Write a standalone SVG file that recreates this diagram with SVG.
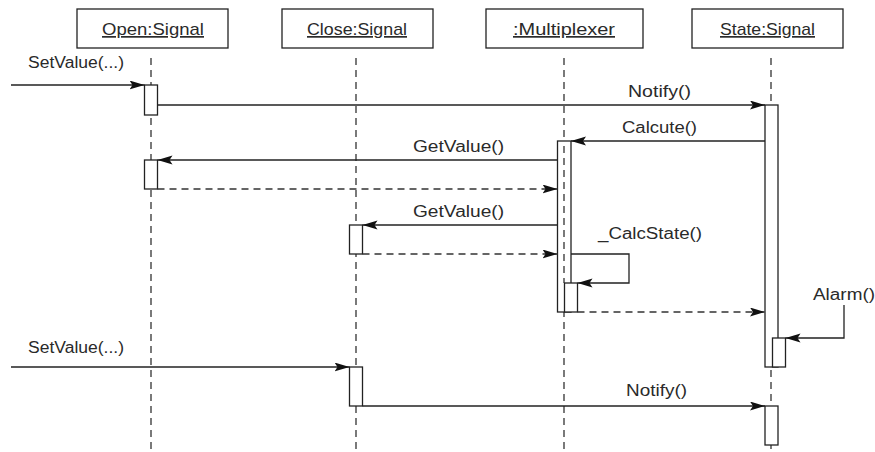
<svg xmlns="http://www.w3.org/2000/svg" width="875" height="452" viewBox="0 0 875 452">
  <style>
    .hdr { fill: #fff; stroke: #222; stroke-width: 1.3; }
    .lbl { font-family: "Liberation Sans", Arial, sans-serif; font-size: 16px; fill: #2a2a2a; }
    .ttl { font-size: 17px; text-decoration: underline; }
    .life { stroke: #333; stroke-width: 1.3; stroke-dasharray: 7 5; fill: none; }
    .act { fill: #fff; stroke: #222; stroke-width: 1.3; }
    .msg { stroke: #222; stroke-width: 1.3; fill: none; marker-end: url(#arrow); }
    .ret { stroke: #333; stroke-width: 1.3; fill: none; stroke-dasharray: 7 5; marker-end: url(#arrow); }
  </style>
  <defs>
    <marker id="arrow" markerWidth="16" markerHeight="10" refX="15" refY="4.5" orient="auto" markerUnits="userSpaceOnUse">
      <path d="M0,0 L15,4.5 L0,9 L3,4.5 Z" fill="#111"/>
    </marker>
  </defs>

  <rect width="875" height="452" fill="#fff"/>

  <!-- lifelines -->
  <g id="lifelines">
    <line class="life" x1="151" y1="58" x2="151" y2="452"/>
    <line class="life" x1="356" y1="58" x2="356" y2="452"/>
    <line class="life" x1="564" y1="58" x2="564" y2="452"/>
    <line class="life" x1="771" y1="58" x2="771" y2="452"/>
  </g>

  <!-- objects -->
  <g id="open-signal">
    <rect class="hdr" x="77" y="9" width="151" height="39"/>
    <text class="lbl ttl" x="102" y="35" textLength="102" lengthAdjust="spacingAndGlyphs">Open:Signal</text>
    <rect class="act" x="144.5" y="85" width="13" height="30"/>
    <rect class="act" x="144.5" y="160" width="13" height="29"/>
  </g>

  <g id="close-signal">
    <rect class="hdr" x="282" y="9" width="151" height="39"/>
    <text class="lbl ttl" x="307" y="35" textLength="100" lengthAdjust="spacingAndGlyphs">Close:Signal</text>
    <rect class="act" x="349.5" y="225" width="13" height="29"/>
    <rect class="act" x="349.5" y="367" width="13" height="39"/>
  </g>

  <g id="multiplexer">
    <rect class="hdr" x="486" y="9" width="157" height="39"/>
    <text class="lbl ttl" x="513" y="35" textLength="102" lengthAdjust="spacingAndGlyphs">:Multiplexer</text>
    <rect class="act" x="557.5" y="141" width="13.5" height="171"/>
    <line class="life" x1="564" y1="146" x2="564" y2="283"/>
    <rect class="act" x="564.5" y="283" width="13" height="29"/>
  </g>

  <g id="state-signal">
    <rect class="hdr" x="692" y="9" width="151" height="39"/>
    <text class="lbl ttl" x="720" y="35" textLength="95" lengthAdjust="spacingAndGlyphs">State:Signal</text>
    <rect class="act" x="765" y="105" width="13" height="262"/>
    <rect class="act" x="772.5" y="338" width="13" height="29"/>
    <rect class="act" x="765" y="406" width="13" height="39"/>
  </g>

  <!-- messages -->
  <g id="connectors">
    <line class="msg" x1="11" y1="85" x2="144.5" y2="85"/>
    <line class="msg" x1="157.5" y1="105" x2="765" y2="105"/>
    <line class="msg" x1="765" y1="141" x2="571" y2="141"/>
    <line class="msg" x1="557.5" y1="160" x2="157.5" y2="160"/>
    <line class="ret" x1="157.5" y1="189" x2="557.5" y2="189"/>
    <line class="msg" x1="557.5" y1="225" x2="362.5" y2="225"/>
    <line class="ret" x1="362.5" y1="254" x2="557.5" y2="254"/>
    <polyline class="msg" points="571,254 629,254 629,283 577.5,283"/>
    <line class="ret" x1="577.5" y1="312" x2="765" y2="312"/>
    <polyline class="msg" points="844,305 844,338 785.5,338"/>
    <line class="msg" x1="11" y1="367" x2="349.5" y2="367"/>
    <line class="msg" x1="362.5" y1="406" x2="765" y2="406"/>
  </g>

  <!-- message labels -->
  <g id="labels">
    <text class="lbl" x="28" y="68" textLength="96" lengthAdjust="spacingAndGlyphs">SetValue(...)</text>
    <text class="lbl" x="628" y="97" textLength="63" lengthAdjust="spacingAndGlyphs">Notify()</text>
    <text class="lbl" x="622" y="133" textLength="75" lengthAdjust="spacingAndGlyphs">Calcute()</text>
    <text class="lbl" x="413" y="152" textLength="91" lengthAdjust="spacingAndGlyphs">GetValue()</text>
    <text class="lbl" x="413" y="217" textLength="91" lengthAdjust="spacingAndGlyphs">GetValue()</text>
    <text class="lbl" x="598" y="239" textLength="104" lengthAdjust="spacingAndGlyphs">_CalcState()</text>
    <text class="lbl" x="813" y="300" textLength="62" lengthAdjust="spacingAndGlyphs">Alarm()</text>
    <text class="lbl" x="28" y="353" textLength="96" lengthAdjust="spacingAndGlyphs">SetValue(...)</text>
    <text class="lbl" x="626" y="396" textLength="61" lengthAdjust="spacingAndGlyphs">Notify()</text>
  </g>
</svg>
